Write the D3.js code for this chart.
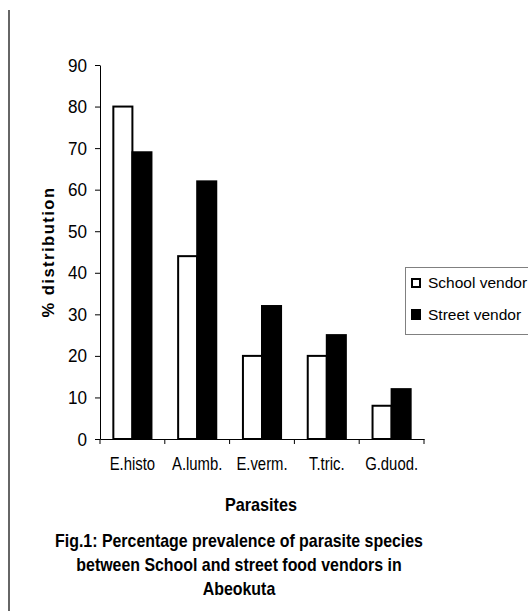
<!DOCTYPE html>
<html>
<head>
<meta charset="utf-8">
<script src="https://cdn.jsdelivr.net/npm/d3@7"></script>
<style>
  html, body { margin: 0; padding: 0; background: #fff; }
  svg { display: block; }
</style>
</head>
<body>
<svg id="chart" width="528" height="611"></svg>
<script>
const categories = ["E.histo", "A.lumb.", "E.verm.", "T.tric.", "G.duod."];
const seriesNames = ["School vendor", "Street vendor"];
const schoolVendor = [80, 44, 20, 20, 8];
const streetVendor = [69, 62, 32, 25, 12];
const yTicks = [0, 10, 20, 30, 40, 50, 60, 70, 80, 90];
const yTitle = "% distribution";
const xTitle = "Parasites";
const captionLines = [
  "Fig.1: Percentage prevalence of parasite species",
  "between School and street food vendors in",
  "Abeokuta"
];

const svg = d3.select("#chart");
const font = "'Liberation Sans', Arial, sans-serif";

// page border line on left
svg.append("line").attr("x1", 9).attr("x2", 9).attr("y1", 10).attr("y2", 611)
  .attr("stroke", "#333").attr("stroke-width", 1.5);

const y = d3.scaleLinear().domain([0, 90]).range([439, 65]);
const x0 = d3.scaleBand().domain(categories).range([100, 424]).paddingInner(0).paddingOuter(0);
const x1 = d3.scaleBand().domain(seriesNames).range([0, x0.bandwidth()]).paddingInner(0).paddingOuter(0.7);
const fills = {"School vendor": "#fff", "Street vendor": "#000"};

const data = categories.map((c, i) => ({cat: c, vals: [
  {s: seriesNames[0], v: schoolVendor[i]},
  {s: seriesNames[1], v: streetVendor[i]}
]}));

// Y axis
const yAxis = d3.axisLeft(y).tickValues(yTicks).tickSize(5).tickSizeOuter(0).tickPadding(0);
const gy = svg.append("g").attr("transform", "translate(100,0)").call(yAxis);
gy.selectAll("text")
  .attr("x", 0)
  .attr("transform", "translate(-13,0) scale(0.9,1)")
  .attr("font-family", font).attr("font-size", 19).attr("fill", "#000");
gy.selectAll("line,path").attr("stroke", "#000");

// X axis
const xAxis = d3.axisBottom(x0).tickSize(0).tickSizeOuter(0).tickPadding(19);
const gx = svg.append("g").attr("transform", "translate(0,439)").call(xAxis);
gx.selectAll("text")
  .attr("transform", "scale(0.85,1)")
  .attr("font-family", font).attr("font-size", 17.5).attr("fill", "#000");
gx.select("path").attr("stroke", "#000");
const bounds = categories.map(c => x0(c)).concat([x0.range()[1]]);
gx.selectAll("line.bound").data(bounds).enter().append("line")
  .attr("class", "bound")
  .attr("x1", d => d).attr("x2", d => d).attr("y1", 0).attr("y2", 5)
  .attr("stroke", "#000");

// Bars
const groups = svg.append("g").selectAll("g").data(data).enter().append("g")
  .attr("transform", d => `translate(${x0(d.cat)},0)`);
groups.selectAll("rect").data(d => d.vals).enter().append("rect")
  .attr("x", d => x1(d.s))
  .attr("y", d => y(d.v))
  .attr("width", x1.bandwidth())
  .attr("height", d => y(0) - y(d.v))
  .attr("fill", d => fills[d.s])
  .attr("stroke", "#000").attr("stroke-width", 2);

// Y title
svg.append("text")
  .attr("transform", "translate(54,252) rotate(-90)")
  .attr("text-anchor", "middle")
  .attr("font-family", font).attr("font-weight", "bold").attr("font-size", 16.5)
  .attr("letter-spacing", 1.5)
  .text(yTitle);

// X title
svg.append("text").attr("transform", "translate(261,511) scale(0.9,1)")
  .attr("text-anchor", "middle")
  .attr("font-family", font).attr("font-weight", "bold").attr("font-size", 18)
  .text(xTitle);

// Caption
svg.append("g").selectAll("text").data(captionLines).enter().append("text")
  .attr("transform", (d, i) => `translate(239,${547 + i * 24}) scale(0.91,1)`)
  .attr("text-anchor", "middle")
  .attr("font-family", font).attr("font-weight", "bold").attr("font-size", 17.5)
  .text(d => d);

// Legend
const lg = svg.append("g");
lg.append("rect").attr("x", 405.5).attr("y", 267.5).attr("width", 140).attr("height", 67)
  .attr("fill", "#fff").attr("stroke", "#808080");
const items = lg.selectAll("g.item").data(seriesNames).enter().append("g").attr("class", "item");
items.append("rect")
  .attr("x", 412).attr("y", (d, i) => 279 + i * 31)
  .attr("width", 8).attr("height", (d, i) => 8 + i)
  .attr("fill", d => fills[d]).attr("stroke", "#000").attr("stroke-width", 2);
items.append("text")
  .attr("x", 428).attr("y", (d, i) => 288 + i * 32)
  .attr("font-family", font).attr("font-size", 15.5)
  .text(d => d);
</script>
</body>
</html>
